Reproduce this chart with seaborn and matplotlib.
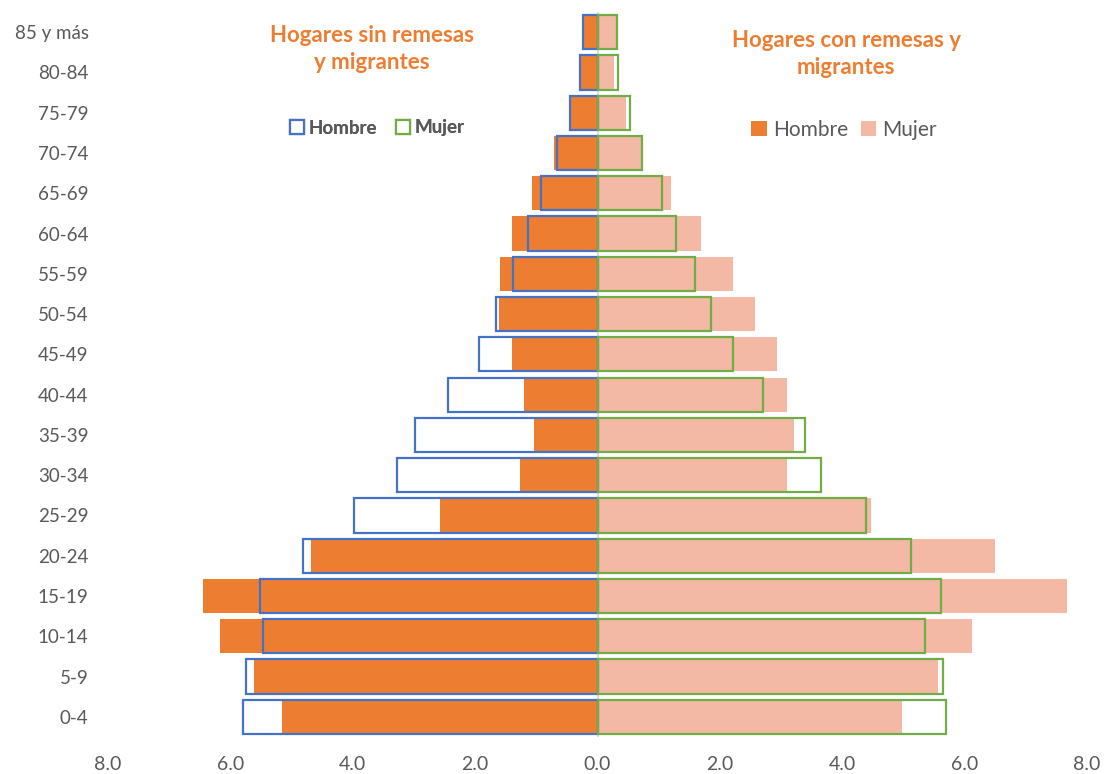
import numpy as np
import pandas as pd
import matplotlib
matplotlib.use("Agg")
import matplotlib.pyplot as plt
from matplotlib.patches import Patch
from matplotlib.ticker import FixedLocator, FuncFormatter
import seaborn as sns

# Age groups, bottom (youngest) to top (oldest)
ages = ["0-4", "5-9", "10-14", "15-19", "20-24", "25-29", "30-34", "35-39",
        "40-44", "45-49", "50-54", "55-59", "60-64", "65-69", "70-74",
        "75-79", "80-84", "85 y más"]

# Households with remittances and migrants (% of population)
con_hombre = [5.15, 5.62, 6.17, 6.44, 4.69, 2.58, 1.27, 1.03, 1.20, 1.40,
              1.61, 1.59, 1.39, 1.07, 0.71, 0.44, 0.27, 0.22]
con_mujer = [4.98, 5.57, 6.12, 7.68, 6.50, 4.47, 3.10, 3.21, 3.09, 2.94,
             2.58, 2.22, 1.69, 1.20, 0.71, 0.46, 0.27, 0.30]

# Households without remittances and migrants (% of population)
sin_hombre = [5.80, 5.74, 5.47, 5.52, 4.81, 3.98, 3.27, 2.98, 2.44, 1.93,
              1.66, 1.38, 1.14, 0.92, 0.66, 0.45, 0.29, 0.24]
sin_mujer = [5.69, 5.65, 5.36, 5.61, 5.13, 4.39, 3.66, 3.39, 2.71, 2.22,
             1.86, 1.59, 1.29, 1.05, 0.73, 0.53, 0.34, 0.32]

x_ticks = [-8, -6, -4, -2, 0, 2, 4, 6, 8]

ORANGE = "#ED7D31"
PINK = "#F4B9A5"
BLUE = "#4472C4"
GREEN = "#70AD47"
GREY = "#595959"

sns.set_theme(style="white")
plt.rcParams["font.family"] = ["Lato", "DejaVu Sans"]

df = pd.DataFrame({
    "edad": ages,
    "con_h": -np.array(con_hombre),
    "con_m": np.array(con_mujer),
    "sin_h": -np.array(sin_hombre),
    "sin_m": np.array(sin_mujer),
})
order = ages[::-1]

fig = plt.figure(figsize=(11.04, 7.74), dpi=100)
ax = fig.add_axes([108 / 1104, 37 / 774, 979 / 1104, 725 / 774])

bar_w = 0.85
# Filled bars: households with remittances
sns.barplot(data=df, x="con_h", y="edad", order=order, orient="h", color=ORANGE,
            saturation=1, width=bar_w, errorbar=None, ax=ax, linewidth=0)
sns.barplot(data=df, x="con_m", y="edad", order=order, orient="h", color=PINK,
            saturation=1, width=bar_w, errorbar=None, ax=ax, linewidth=0)
# Outlined bars: households without remittances
sns.barplot(data=df, x="sin_h", y="edad", order=order, orient="h", color=BLUE,
            saturation=1, width=bar_w, errorbar=None, ax=ax, fill=False,
            linewidth=1.6)
sns.barplot(data=df, x="sin_m", y="edad", order=order, orient="h", color=GREEN,
            saturation=1, width=bar_w, errorbar=None, ax=ax, fill=False,
            linewidth=1.6)

ax.axvline(0, color="#D9D9D9", lw=1.2, zorder=0.5)

ax.set_xlim(-8, 8)
ax.set_ylim(len(ages) - 0.5, -0.5)
ax.xaxis.set_major_locator(FixedLocator(x_ticks))
ax.xaxis.set_major_formatter(FuncFormatter(lambda v, p: f"{abs(v):.1f}"))
ax.set_xlabel("")
ax.set_ylabel("")
ax.tick_params(axis="x", length=0, pad=14, labelsize=14, labelcolor=GREY)
ax.tick_params(axis="y", length=0, pad=14, labelsize=13.5, labelcolor=GREY)
for s in ax.spines.values():
    s.set_visible(False)
ax.grid(False)

# Panel titles
fig.text(372 / 1104, 1 - 49 / 774, "Hogares sin remesas\ny migrantes",
         ha="center", va="center", color=ORANGE, fontsize=16, fontweight="bold",
         linespacing=1.3)
fig.text(846 / 1104, 1 - 54 / 774, "Hogares con remesas y\nmigrantes",
         ha="center", va="center", color=ORANGE, fontsize=16, fontweight="bold",
         linespacing=1.3)

# Legends
leg_sin = fig.legend(
    handles=[Patch(facecolor="white", edgecolor=BLUE, linewidth=1.6, label="Hombre"),
             Patch(facecolor="white", edgecolor=GREEN, linewidth=1.6, label="Mujer")],
    loc="center", bbox_to_anchor=(377 / 1104, 1 - 128 / 774), ncol=2, frameon=False,
    handlelength=0.75, handleheight=0.75, handletextpad=0.25, columnspacing=1.0,
    prop={"size": 13.5, "weight": "bold"}, labelcolor=GREY)
fig.add_artist(leg_sin)
fig.legend(
    handles=[Patch(facecolor=ORANGE, edgecolor="none", label="Hombre"),
             Patch(facecolor=PINK, edgecolor="none", label="Mujer")],
    loc="center", bbox_to_anchor=(844 / 1104, 1 - 130 / 774), ncol=2, frameon=False,
    handlelength=0.75, handleheight=0.75, handletextpad=0.3, columnspacing=0.6,
    prop={"size": 15}, labelcolor=GREY)

fig.savefig("out.png", dpi=100)
